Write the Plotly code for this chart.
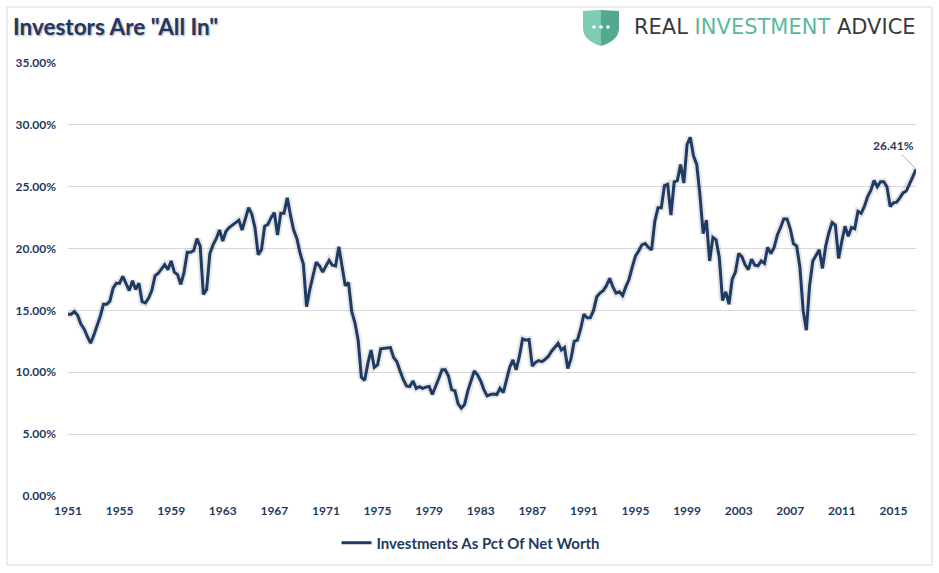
import pandas as pd
import plotly.graph_objects as go

# Investments as % of net worth, quarterly
pct_1951_1959 = [14.7, 14.7, 14.9, 14.6, 13.9, 13.5, 12.9, 12.35, 13.0, 13.7, 14.5, 15.5,
                 15.5, 15.75, 16.8, 17.2, 17.2, 17.75, 17.2, 16.6, 17.4, 16.7, 17.2, 15.7,
                 15.6, 16.0, 16.6, 17.8, 18.0, 18.4, 18.7, 18.3, 19.0, 18.1, 17.9, 17.1]
pct_1960s = [18.1, 19.7, 19.7, 19.85, 20.8, 20.2, 16.3, 16.7, 19.6, 20.3, 20.8, 21.5,
             20.6, 21.4, 21.7, 21.9, 22.1, 22.3, 21.5, 22.4, 23.3, 22.8, 21.7, 19.5,
             19.9, 21.8, 21.95, 22.5, 22.9, 21.1, 22.85, 22.85, 24.1, 22.7, 21.5, 20.8,
             19.6, 18.75, 15.3, 16.7]
pct_1970s = [17.9, 18.9, 18.6, 18.1, 18.6, 19.05, 18.65, 18.6, 20.15, 18.6, 17.0, 17.25,
             14.9, 14.0, 12.6, 9.6, 9.35, 10.7, 11.8, 10.4, 10.6, 11.9, 11.95, 12.0,
             12.0, 11.2, 10.86, 10.1, 9.4, 8.9, 8.85, 9.3, 8.7, 8.84, 8.7, 8.8,
             8.85, 8.2, 8.78, 9.5]
pct_1980s = [10.2, 10.2, 9.7, 8.6, 8.5, 7.45, 7.1, 7.4, 8.5, 9.3, 10.1, 9.8,
             9.3, 8.6, 8.1, 8.2, 8.25, 8.2, 8.7, 8.35, 9.4, 10.4, 11.0, 10.2,
             11.3, 12.7, 12.6, 12.65, 10.5, 10.8, 10.95, 10.86, 11.05, 11.3, 11.7, 12.0,
             12.35, 11.8, 12.0, 10.3]
pct_1990s = [11.1, 12.5, 12.6, 13.5, 14.7, 14.4, 14.4, 15.0, 16.1, 16.4, 16.6, 17.0,
             17.6, 16.9, 16.4, 16.5, 16.2, 16.9, 17.5, 18.5, 19.4, 19.8, 20.3, 20.4,
             20.1, 19.9, 22.2, 23.3, 23.3, 25.1, 25.2, 22.7, 25.4, 25.5, 26.8, 25.3,
             28.4, 29.0, 27.5, 26.8]
pct_2000s = [24.3, 21.2, 22.3, 19.0, 20.9, 20.7, 19.3, 15.8, 16.5, 15.5, 17.5, 18.1,
             19.6, 19.35, 18.7, 18.3, 19.15, 18.65, 18.6, 19.0, 18.8, 20.1, 19.6, 20.1,
             21.1, 21.7, 22.4, 22.4, 21.6, 20.4, 20.2, 18.5, 15.0, 13.4, 17.0, 19.0,
             19.4, 19.9, 18.4, 20.2]
pct_2010s = [21.3, 22.1, 21.9, 19.2, 20.6, 21.8, 21.0, 21.7, 21.6, 23.0, 22.85, 23.4,
             24.2, 24.7, 25.5, 25.0, 25.4, 25.4, 25.0, 23.4, 23.7, 23.75, 24.1, 24.5,
             24.65, 25.3, 25.8, 26.41]

values = pct_1951_1959 + pct_1960s + pct_1970s + pct_1980s + pct_1990s + pct_2000s + pct_2010s
dates = pd.date_range("1951-01-01", periods=len(values), freq="QS")

navy = "#1F3B63"
label_font = dict(family="Lato", size=12, color="#1F3A60", weight="bold")

W, H = 939, 573
L, R, T, B = 68, 23, 63, 77


# helpers to place decorations by pixel position
def px(x):
    return (x - L) / (W - L - R)


def py(y):
    return (H - B - y) / (H - T - B)


fig = go.Figure()

# soft shadow under the line
fig.add_trace(go.Scatter(x=dates, y=values, mode="lines",
                         line=dict(color="rgba(0,0,0,0.10)", width=7),
                         showlegend=False, hoverinfo="skip"))
fig.add_trace(go.Scatter(x=dates, y=values, mode="lines",
                         name="Investments As Pct Of Net Worth",
                         line=dict(color=navy, width=3)))

fig.add_annotation(x=dates[-1], y=values[-1], text=f"{values[-1]:.2f}%",
                   showarrow=True, arrowhead=0, arrowwidth=1, arrowcolor="#B0B0B0",
                   ax=-23, ay=-24,
                   font=dict(family="Lato", size=12, color=navy, weight="bold"))

# logo text
fig.add_annotation(xref="paper", yref="paper", x=px(632), y=py(27),
                   xanchor="left", yanchor="middle", showarrow=False,
                   text="REAL <span style='color:#5BB89D'>INVESTMENT</span> ADVICE",
                   font=dict(family="DejaVu Sans", size=21, color="#3A3A3A"))

shapes = [
    # outer frame
    dict(type="rect", xref="paper", yref="paper",
         x0=px(7), x1=px(932), y0=py(565), y1=py(7),
         line=dict(color="#D9D9D9", width=1), layer="below"),
    # shield, left and right halves
    dict(type="path", xref="paper", yref="paper",
         path=f"M {px(583)} {py(11)} L {px(601)} {py(10)} L {px(601)} {py(46)} "
              f"Q {px(584)} {py(41)} {px(583)} {py(29)} Z",
         fillcolor="#7DCBB3", line=dict(width=0)),
    dict(type="path", xref="paper", yref="paper",
         path=f"M {px(601)} {py(10)} L {px(619)} {py(11)} L {px(619)} {py(29)} "
              f"Q {px(618)} {py(41)} {px(601)} {py(46)} Z",
         fillcolor="#52A98F", line=dict(width=0)),
]
for cx in (594, 601, 608):
    shapes.append(dict(type="circle", xref="paper", yref="paper",
                       x0=px(cx - 1.8), x1=px(cx + 1.8), y0=py(28.8), y1=py(25.2),
                       fillcolor="white", line=dict(width=0)))

fig.update_layout(
    width=W, height=H,
    margin=dict(l=L, r=R, t=T, b=B),
    paper_bgcolor="white", plot_bgcolor="white",
    title=dict(text='Investors Are "All In"', xref="container", yref="container",
               x=13 / W, xanchor="left", y=1 - 27.5 / H, yanchor="middle",
               font=dict(family="Lato", size=22.5, color="#1F3864", weight="bold",
                         shadow="1px 1px 2px rgba(0,0,0,0.35)")),
    xaxis=dict(type="date", range=[dates[0], dates[-1]],
               tick0="1951-01-01", dtick="M48", tickformat="%Y",
               showgrid=False, showline=False, zeroline=False, ticks="",
               tickfont=label_font, ticklabelstandoff=6),
    yaxis=dict(range=[0, 35], dtick=5, tickformat=".2f", ticksuffix="%",
               gridcolor="#D9D9D9", gridwidth=1, zeroline=False, showline=False,
               ticks="", tickfont=label_font, ticklabelstandoff=11),
    legend=dict(orientation="h", x=px(471), xanchor="center", y=py(543),
                yanchor="middle", itemwidth=30,
                font=dict(family="Lato", size=15, color="#1F3A60", weight="bold")),
    shapes=shapes,
    showlegend=True,
)

# page body has a default 8px margin; drop it so the figure sits at 0,0
fig.write_html("out.html", config={"displayModeBar": False},
               post_script="document.body.style.margin = '0';")
